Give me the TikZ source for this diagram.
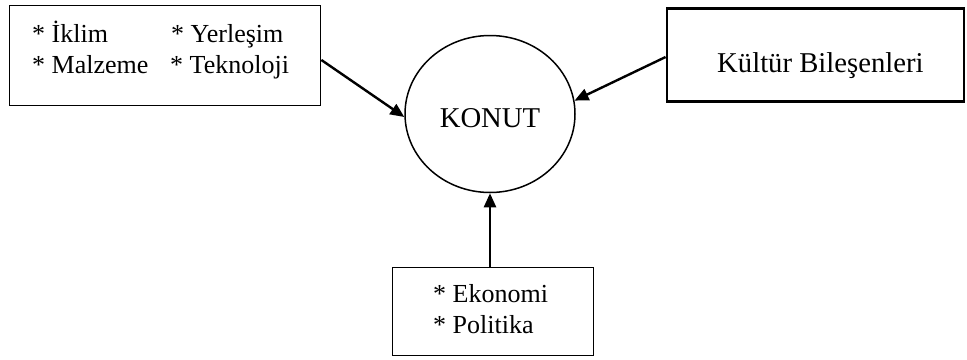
\documentclass[tikz,border=0pt]{standalone}
\usepackage{fontspec}
\setmainfont{Liberation Serif}
\usetikzlibrary{shapes.geometric,arrows.meta}
\begin{document}
\begin{tikzpicture}[x=1pt,y=-1pt,
  boxA/.style={draw,rectangle,line width=1.8pt,inner sep=0pt},
  boxB/.style={draw,rectangle,line width=2.8pt,inner sep=0pt},
  small/.style={inner sep=0pt,anchor=base west,font=\fontsize{26}{31}\selectfont},
  big/.style={inner sep=0pt,font=\fontsize{28.7}{34}\selectfont},
  conn/.style={line width=2.4pt,-{Triangle[length=14pt,width=12pt]}}]
\useasboundingbox (0,0) rectangle (967,359);
% boxes
\node[boxA,minimum width=311pt,minimum height=100pt] (lbox) at (165,55.5) {};
\node[boxB,minimum width=297pt,minimum height=93pt] (rbox) at (815.5,55) {};
\node[boxA,minimum width=201pt,minimum height=88pt] (bbox) at (493,311.5) {};
\node[draw,ellipse,line width=1.5pt,minimum width=170pt,minimum height=157pt,inner sep=0pt] (konut) at (490,114) {};
% texts
\node[small] (t1) at (32,42) {* İklim};
\node[small] (t2) at (171,42) {* Yerleşim};
\node[small] (t3) at (32,73) {* Malzeme};
\node[small] (t4) at (170,73) {* Teknoloji};
\node[big,anchor=base] (tk) at (490,127) {KONUT};
\node[big,anchor=base west] (tr) at (717,72) {Kültür Bileşenleri};
\node[small] (t5) at (433,302) {* Ekonomi};
\node[small] (t6) at (433,333) {* Politika};
% connectors
\draw[conn] ([yshift=-4.5pt]lbox.east) -- (konut.182);
\draw[conn] ([yshift=-2pt]rbox.west) -- (konut.9);
\draw[conn] (bbox.north -| konut.south) -- (konut.south);
\end{tikzpicture}
\end{document}
